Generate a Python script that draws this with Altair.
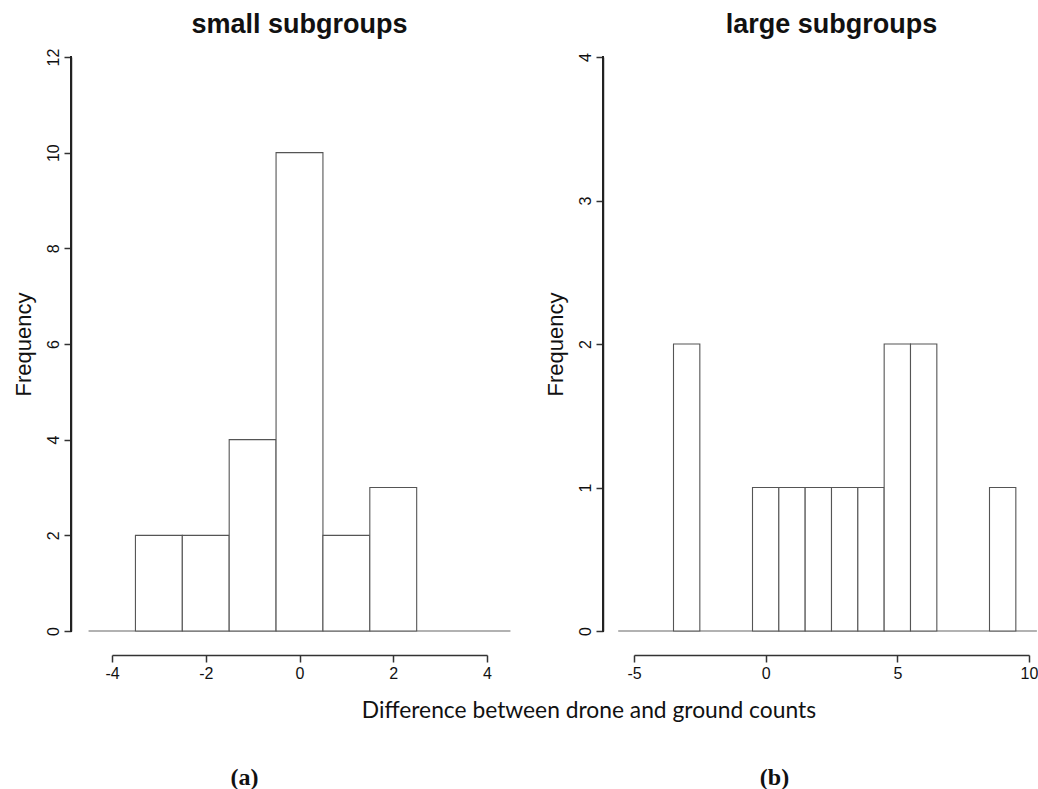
import altair as alt
import pandas as pd

# ---- data ----
small_lo = [-3.5, -2.5, -1.5, -0.5, 0.5, 1.5]
small_hi = [-2.5, -1.5, -0.5, 0.5, 1.5, 2.5]
small_counts = [2, 2, 4, 10, 2, 3]

large_lo = [-3.5, -0.5, 0.5, 1.5, 2.5, 3.5, 4.5, 5.5, 8.5]
large_hi = [-2.5, 0.5, 1.5, 2.5, 3.5, 4.5, 5.5, 6.5, 9.5]
large_counts = [2, 1, 1, 1, 1, 1, 2, 2, 1]

small_xticks = [-4, -2, 0, 2, 4]
small_yticks = [0, 2, 4, 6, 8, 10, 12]
large_xticks = [-5, 0, 5, 10]
large_yticks = [0, 1, 2, 3, 4]

small_baseline = [-4.5, 4.5]
large_baseline = [-5.6, 10.3]

AXIS_FONT = "Liberation Sans"


def panel(lo, hi, counts, xticks, yticks, baseline, title, caption,
          width, yoffset, caption_x, title_offset):
    bars = pd.DataFrame({"lo": lo, "hi": hi, "count": counts})
    base = pd.DataFrame({"lo": [baseline[0]], "hi": [baseline[1]], "count": [0]})
    yline = pd.DataFrame({"count": [yticks[0]], "top": [yticks[-1]]})
    xs = alt.Scale(domain=[xticks[0], xticks[-1]], nice=False, zero=False)
    ys = alt.Scale(domain=[yticks[0], yticks[-1]], nice=False, zero=False)

    xaxis = alt.Axis(
        values=xticks, offset=24, tickSize=7, grid=False, domain=True,
        domainColor="#333", domainWidth=1.5, tickColor="#333", tickWidth=1.5,
        labelFont=AXIS_FONT, labelFontSize=16, labelColor="#111",
        labelPadding=3, labelExpr="'' + datum.value", labelFlush=False,
        title=caption, titleFont="Liberation Serif", titleFontSize=24,
        titleFontWeight="bold", titleColor="#111", titleX=caption_x,
        titleY=129, titleAlign="center", titleBaseline="alphabetic",
    )
    yaxis = alt.Axis(
        values=yticks, offset=yoffset, tickSize=7, grid=False, domain=True,
        domainColor="#333", domainWidth=1.5,
        tickColor="#333", tickWidth=1.5,
        labelFont=AXIS_FONT, labelFontSize=16, labelColor="#111",
        labelAngle=270, labelAlign="center", labelBaseline="bottom",
        labelPadding=3, labelFlush=False,
        title="Frequency", titleFont=AXIS_FONT, titleFontSize=22,
        titleFontWeight="normal", titleColor="#111", titlePadding=10,
    )

    x_enc = alt.X("lo:Q", scale=xs, axis=xaxis)
    y_enc = alt.Y("count:Q", scale=ys, axis=yaxis)

    rule = alt.Chart(base).mark_rule(color="#666", strokeWidth=1.2).encode(
        x=x_enc, x2="hi:Q", y=y_enc,
    )
    rects = alt.Chart(bars).mark_rect(
        fill="white", stroke="#555", strokeWidth=1.1
    ).encode(
        x=x_enc, x2="hi:Q", y=y_enc, y2=alt.datum(0),
    )
    # y-axis line drawn at the axis offset, spanning the tick range
    axis_line = alt.Chart(yline).mark_rule(
        color="#222", strokeWidth=2, strokeCap="square"
    ).encode(
        x=alt.value(-yoffset), y=y_enc, y2="top:Q",
    )
    return alt.layer(rule, rects, axis_line).properties(
        width=width, height=574,
        title=alt.TitleParams(
            title, font=AXIS_FONT, fontSize=27, fontWeight="bold",
            color="#111", anchor="middle", frame="group",
            baseline="alphabetic", offset=title_offset,
        ),
    )


left = panel(small_lo, small_hi, small_counts, small_xticks, small_yticks,
             small_baseline, "small subgroups", "(a)", 375, 41, 132, -12)
right = panel(large_lo, large_hi, large_counts, large_xticks, large_yticks,
              large_baseline, "large subgroups", "(b)", 395, 31, 140, -7)

chart = alt.hconcat(left, right, spacing=147, bounds="flush").properties(
    title=alt.TitleParams(
        "Difference between drone and ground counts", orient="bottom",
        anchor="middle", frame="bounds", font="Lato", fontSize=22.8,
        fontWeight="normal", color="#111", baseline="alphabetic",
        offset=-71, dx=64,
    ),
    padding={"left": 12, "top": 10, "right": 0, "bottom": 0},
).configure(background="white").configure_view(stroke=None, clip=False)

chart.save("out.html", embed_options={"renderer": "svg", "actions": False})
